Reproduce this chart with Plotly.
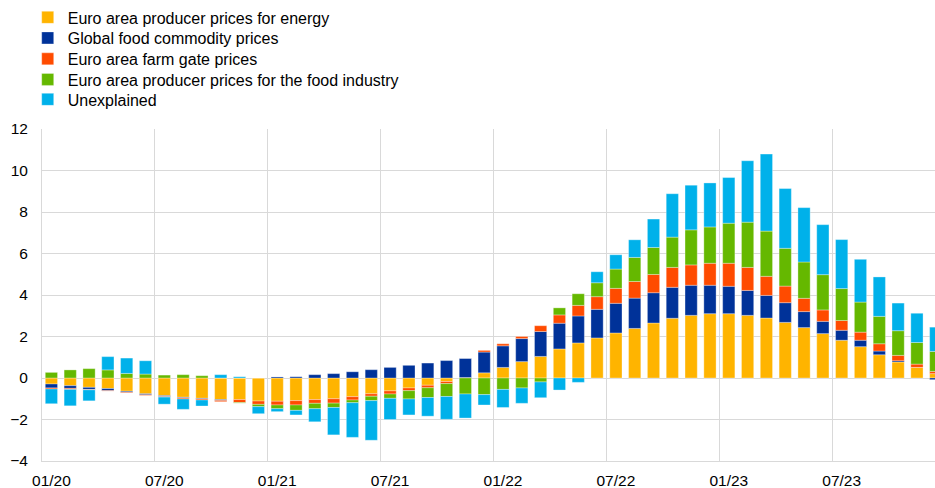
import plotly.graph_objects as go

# Monthly periods, January 2020 to December 2023
months = [f"{m:02d}/{y % 100:02d}" for y in range(2020, 2024) for m in range(1, 13)]

# Contributions (percentage points)
energy = [-0.29, -0.37, -0.45, -0.51, -0.64, -0.76, -0.85, -0.93, -0.98, -1.04,
          -1.04, -1.11, -1.12, -1.09, -1.04, -1.00, -0.90, -0.76, -0.62, -0.48,
          -0.35, -0.17, 0.02, 0.25, 0.51, 0.79, 1.04, 1.40, 1.69, 1.93,
          2.17, 2.39, 2.65, 2.88, 3.02, 3.10, 3.10, 3.02, 2.89, 2.68,
          2.43, 2.14, 1.82, 1.51, 1.12, 0.77, 0.51, 0.21]
global_food = [-0.19, -0.13, -0.10, -0.10, -0.05, -0.05, -0.05, -0.03, -0.03, -0.04,
               0.00, 0.00, 0.05, 0.06, 0.16, 0.21, 0.30, 0.40, 0.51, 0.61,
               0.72, 0.84, 0.93, 1.00, 1.04, 1.11, 1.20, 1.24, 1.30, 1.38,
               1.43, 1.46, 1.46, 1.49, 1.45, 1.37, 1.32, 1.20, 1.09, 0.95,
               0.77, 0.59, 0.48, 0.31, 0.18, 0.06, 0.00, -0.08]
farm_gate = [-0.05, -0.05, -0.02, -0.02, -0.03, -0.03, -0.02, -0.05, -0.05, -0.06,
             -0.14, -0.16, -0.18, -0.21, -0.18, -0.21, -0.16, -0.12, -0.15, -0.13,
             -0.12, -0.10, 0.00, 0.08, 0.10, 0.10, 0.28, 0.40, 0.51, 0.61,
             0.72, 0.80, 0.88, 0.96, 0.98, 1.06, 1.11, 1.11, 0.92, 0.80,
             0.64, 0.55, 0.47, 0.39, 0.35, 0.26, 0.16, 0.11]
food_industry = [0.27, 0.39, 0.45, 0.39, 0.22, 0.19, 0.14, 0.16, 0.11, 0.00,
                 -0.03, -0.11, -0.18, -0.26, -0.26, -0.21, -0.13, -0.21, -0.21, -0.40,
                 -0.47, -0.62, -0.77, -0.80, -0.55, -0.48, -0.19, 0.34, 0.56, 0.67,
                 0.93, 1.16, 1.30, 1.46, 1.69, 1.75, 1.93, 2.18, 2.18, 1.82,
                 1.75, 1.70, 1.54, 1.45, 1.32, 1.19, 1.04, 0.96]
unexplained = [-0.71, -0.79, -0.53, 0.64, 0.74, 0.64, -0.34, -0.50, -0.29, 0.16,
               0.06, -0.34, -0.14, -0.22, -0.63, -1.32, -1.67, -1.91, -1.02, -0.77,
               -0.90, -1.10, -1.16, -0.50, -0.87, -0.74, -0.76, -0.58, -0.21, 0.53,
               0.69, 0.85, 1.37, 2.09, 2.15, 2.12, 2.20, 2.96, 3.71, 2.88,
               2.62, 2.41, 2.36, 2.06, 1.90, 1.33, 1.41, 1.17]

series = [
    ("Euro area producer prices for energy", energy, "#FFB400"),
    ("Global food commodity prices", global_food, "#003299"),
    ("Euro area farm gate prices", farm_gate, "#FF4B00"),
    ("Euro area producer prices for the food industry", food_industry, "#65B800"),
    ("Unexplained", unexplained, "#00B1EA"),
]

x_idx = list(range(len(months)))
tick_idx = x_idx[::6]
tick_txt = [months[i] for i in tick_idx]

FONT = "Liberation Sans, Arial, sans-serif"
GRID = "#d9d9d9"
LEGEND_FONT = dict(family=FONT, size=16, color="#000000")
TICK_FONT = dict(family=FONT, size=15.5, color="#000000")

# One legend per series, stacked as a column above the plot
legend_rows = [1.336, 1.274, 1.211, 1.149, 1.089]
legend_ids = ["legend", "legend2", "legend3", "legend4", "legend5"]

fig = go.Figure()
for (name, vals, color), lid in zip(series, legend_ids):
    fig.add_trace(go.Bar(
        x=x_idx, y=vals, name=name, legend=lid,
        marker=dict(color=color, line=dict(color="rgba(255,255,255,0.45)", width=0.7)),
    ))

legend_layout = {}
for lid, ypos in zip(legend_ids, legend_rows):
    legend_layout[lid] = dict(
        x=-0.016, xanchor="left", y=ypos, yanchor="middle",
        font=LEGEND_FONT, bgcolor="rgba(0,0,0,0)", borderwidth=0,
    )

fig.update_layout(
    width=935, height=488,
    margin=dict(l=42, r=0, t=129, b=27, pad=0, autoexpand=False),
    barmode="relative", bargap=0.35,
    plot_bgcolor="white", paper_bgcolor="white",
    font=dict(family=FONT, size=15.5, color="#000000"),
    showlegend=True,
    xaxis=dict(
        range=[-0.5, 46.96], automargin=False,
        tickmode="array", tickvals=tick_idx, ticktext=tick_txt,
        showgrid=False, zeroline=False, ticks="",
        showline=True, linecolor=GRID, linewidth=1,
        minor=dict(tick0=-0.5, dtick=6, showgrid=True, gridcolor=GRID, gridwidth=1, ticks=""),
        tickfont=TICK_FONT, ticklabelstandoff=5,
    ),
    yaxis=dict(
        range=[-4, 12], tickmode="linear", tick0=-4, dtick=2, automargin=False,
        showgrid=True, gridcolor=GRID, gridwidth=1,
        zeroline=True, zerolinecolor=GRID, zerolinewidth=1,
        showline=True, linecolor=GRID, linewidth=1,
        ticks="", ticklabelstandoff=10,
        tickfont=TICK_FONT,
    ),
    **legend_layout,
)

fig.write_html("out.html")
